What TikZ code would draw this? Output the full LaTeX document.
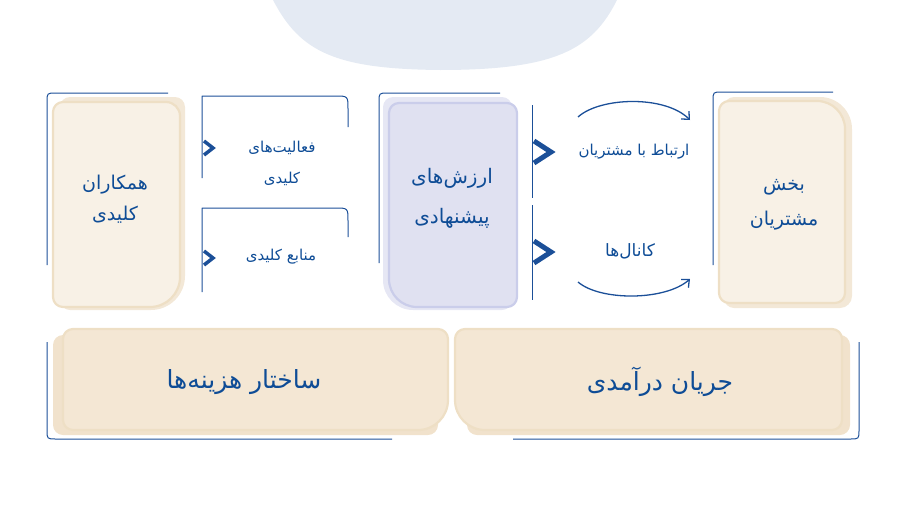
\documentclass[tikz,border=0pt]{standalone}
\usepackage{fontspec}
\usepackage{tikz}
\usetikzlibrary{arrows.meta}
\newfontfamily\arabicfont[Script=Arabic]{DejaVu Sans}
\TeXXeTstate=1
\definecolor{bmcblue}{HTML}{1B4F98}
\definecolor{textblue}{HTML}{0E4C96}
\definecolor{blobgray}{HTML}{E4EAF3}
\definecolor{tanfill}{HTML}{F8F1E6}
\definecolor{tanshade}{HTML}{F3E8D7}
\definecolor{tanline}{HTML}{EEDFC5}
\definecolor{sandfill}{HTML}{F4E7D4}
\definecolor{sandshade}{HTML}{F1E2CC}
\definecolor{lavfill}{HTML}{E0E1F1}
\definecolor{lavshade}{HTML}{E6E7F4}
\definecolor{lavline}{HTML}{CACDEA}

\begin{document}
\begin{tikzpicture}[x=1pt,y=-1pt,line join=round,
  edge/.style={draw=bmcblue,line width=1},
  chev/.style={draw=bmcblue,line width=3.5,line join=miter},
  bigchev/.style={draw=bmcblue,line width=5,line join=miter},
  curvearrow/.style={draw=bmcblue,line width=1.3,-{Straight Barb[length=6pt,width=11pt]}},
  tanback/.style={fill=tanshade},
  tanfront/.style={fill=tanfill,draw=tanline,line width=2.2},
  sandback/.style={fill=sandshade},
  sandfront/.style={fill=sandfill,draw=tanline,line width=2.2},
  lavback/.style={fill=lavshade},
  lavfront/.style={fill=lavfill,draw=lavline,line width=2.2},
  lbl/.style={text=textblue,align=center,font=\arabicfont\fontsize{19}{31}\selectfont},
  small/.style={lbl,font=\arabicfont\fontsize{15}{31}\selectfont},
  big/.style={lbl,font=\arabicfont\fontsize{25}{30}\selectfont}]
\useasboundingbox (0,0) rectangle (900,509);
% top backdrop
\fill[blobgray] (273,0) .. controls (300,52) and (335,69) .. (440,70) .. controls (555,70) and (592,50) .. (617,0) -- cycle;

% key partners
\fill[tanback] (60,150) [rounded corners=10] -- (60,97) -- (185,97) [rounded corners=34] -- (185,310) [rounded corners=10] -- (60,310) -- cycle;
\filldraw[tanfront] (53,150) [rounded corners=10] -- (53,102) [rounded corners=14] -- (180,102) [rounded corners=30] -- (180,307) [rounded corners=10] -- (53,307) -- cycle;
\draw[edge] (168,93) -- (56,93) .. controls (47,93) .. (47,102) -- (47,265);
\node[lbl] (partners) at (115,199) {\beginR همکاران\endR\\\beginR کلیدی\endR};

% key activities and resources
\draw[edge] (202,178) -- (202,96) -- (335,96) .. controls (348,96) .. (348,109) -- (348,127);
\draw[chev] (204,141) -- (213,148) -- (204,155);
\node[small] (activities) at (282,163) {\beginR فعالیت‌های\endR\\\beginR کلیدی\endR};
\draw[edge] (202,292) -- (202,208) -- (335,208) .. controls (348,208) .. (348,221) -- (348,237);
\draw[chev] (204,251) -- (213,258) -- (204,265);
\node[small] (resources) at (281,257) {\beginR منابع کلیدی\endR};

% value propositions
\fill[lavback] (383,150) [rounded corners=10] -- (383,97) -- (512,97) -- (512,310) [rounded corners=30] -- (383,310) [rounded corners=10] -- cycle;
\filldraw[lavfront] (389,150) [rounded corners=10] -- (389,103) -- (517,103) -- (517,307) [rounded corners=28] -- (389,307) [rounded corners=10] -- cycle;
\draw[edge] (500,93) -- (388,93) .. controls (379,93) .. (379,102) -- (379,263);
\node[lbl,font=\arabicfont\fontsize{20}{40}\selectfont] (value) at (452,198) {\beginR ارزش‌های\endR\\\beginR پیشنهادی\endR};

% relationships and channels
\draw[edge] (532,105) -- (532,198);
\draw[edge] (532,205) -- (532,300);
\draw[bigchev] (534,141) -- (551,152) -- (534,163);
\draw[bigchev] (534,241) -- (551,252) -- (534,263);
\coordinate (reltail) at (578,117);
\coordinate (relhead) at (690,120);
\coordinate (chtail) at (578,282);
\coordinate (chhead) at (690,279);
\draw[curvearrow] (reltail) .. controls (600,97) and (665,95) .. (relhead);
\draw[curvearrow] (chtail) .. controls (600,301) and (665,301) .. (chhead);
\node[small] (relation) at (634,152) {\beginR ارتباط با مشتریان\endR};
\node[small,font=\arabicfont\fontsize{17}{30}\selectfont] (channels) at (630,251) {\beginR کانال‌ها\endR};

% customer segments
\fill[tanback] (724,150) [rounded corners=10] -- (724,97) [rounded corners=32] -- (852,97) [rounded corners=12] -- (852,308) [rounded corners=10] -- (724,308) -- cycle;
\filldraw[tanfront] (719,150) [rounded corners=10] -- (719,101) [rounded corners=28] -- (845,101) [rounded corners=10] -- (845,303) -- (719,303) -- cycle;
\draw[edge] (833,92) -- (722,92) .. controls (713,92) .. (713,101) -- (713,265);
\node[lbl,font=\arabicfont\fontsize{19}{35}\selectfont] (segments) at (784,205) {\beginR بخش\endR\\\beginR مشتریان\endR};

% cost structure
\fill[sandback] (53,380) [rounded corners=10] -- (53,335) -- (438,335) -- (438,435) -- (53,435) -- cycle;
\filldraw[sandfront] (63,380) [rounded corners=10] -- (63,329) -- (448,329) [rounded corners=30] -- (448,430) [rounded corners=10] -- (63,430) -- cycle;
\draw[edge] (47,342) -- (47,430) .. controls (47,439) .. (56,439) -- (392,439);
\node[big] (cost) at (244,382) {\beginR ساختار هزینه‌ها\endR};

% revenue streams
\fill[sandback] (467,380) [rounded corners=10] -- (467,335) -- (850,335) -- (850,435) -- (467,435) -- cycle;
\filldraw[sandfront] (455,380) [rounded corners=10] -- (455,329) -- (842,329) -- (842,430) [rounded corners=30] -- (455,430) [rounded corners=10] -- cycle;
\draw[edge] (513,439) -- (850,439) .. controls (859,439) .. (859,430) -- (859,342);
\node[big] (revenue) at (660,382) {\beginR جریان درآمدی\endR};
\end{tikzpicture}
\end{document}
